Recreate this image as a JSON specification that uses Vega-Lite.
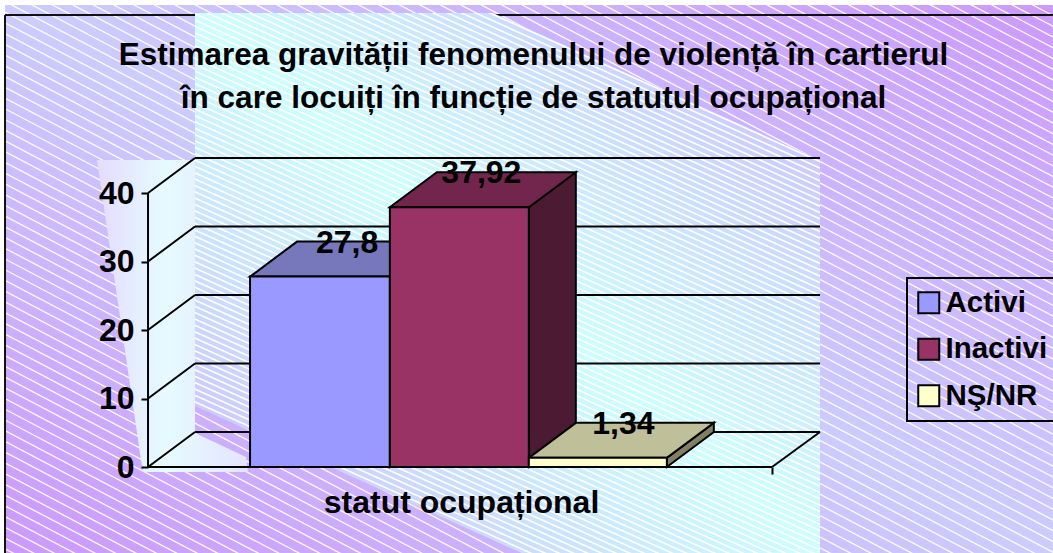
{
"$schema":"https://vega.github.io/schema/vega-lite/v6.json",
"width":625,"height":540,
"autosize":{"type":"none"},
"padding":{"left":195,"top":13,"right":233,"bottom":0},
"background":"white",
"title":{"text":["Estimarea gravității fenomenului de violență în cartierul","în care locuiți în funcție de statutul ocupațional"],"font":"Liberation Sans","fontWeight":"bold","fontSize":31.5,"color":"black","anchor":"middle","dx":26,"offset":-1144,"lineHeight":42.7,"baseline":"alphabetic"},
"config":{"view":{"stroke":null},"legend":{"strokeWidth":2}},
"datasets":{
"fundal":[{"x":-1.029,"x2":6.511,"y":67.45,"y2":-12.55}],
"hasura":[{"x":4.727,"y":105.4,"x2":0.712,"y2":-49.6}],
"hasuraFina":[{"x":3.292,"y":58.8,"x2":1.873,"y2":-5.11}],
"cadru":[{"x":-1.029,"x2":-1.029,"y":65.99,"y2":-12.55},{"x":-1.029,"x2":6.511,"y":65.99,"y2":65.99}],
"panou":[{"x":0.338,"y":8.905,"y2":66.28},{"x":2.482,"y":-10.66,"y2":66.28},{"x":2.691,"y":-12.55,"y2":64.38},{"x":4.835,"y":-12.55,"y2":44.82}],
"perete":[{"y":44.82,"x":-0.367,"x2":0.338},{"y":4.96,"x":-0.079,"x2":0.338},{"y":1.46,"x":-0.054,"x2":0.705},{"y":-0.73,"x":-0.036,"x2":0.719}],
"grila":[
{"x":0.338,"x2":4.835,"y":5.11,"y2":5.11},{"x":0.338,"x2":4.835,"y":15.11,"y2":15.11},{"x":0.338,"x2":4.835,"y":25.11,"y2":25.11},{"x":0.338,"x2":4.835,"y":35.11,"y2":35.11},{"x":0.338,"x2":4.835,"y":45.11,"y2":45.11},
{"x":0,"x2":0.338,"y":0,"y2":5.11},{"x":0,"x2":0.338,"y":10,"y2":15.11},{"x":0,"x2":0.338,"y":20,"y2":25.11},{"x":0,"x2":0.338,"y":30,"y2":35.11},{"x":0,"x2":0.338,"y":40,"y2":45.11},
{"x":0,"x2":0,"y":0,"y2":40},{"x":0,"x2":4.49,"y":0,"y2":0},{"x":4.49,"x2":4.835,"y":0,"y2":5.11}],
"fete":[
{"fata":"Activi lateral","x":1.74,"y":0,"y2":27.8},{"fata":"Activi lateral","x":2.078,"y":5.11,"y2":32.91},
{"fata":"Inactivi lateral","x":2.74,"y":0,"y2":37.92},{"fata":"Inactivi lateral","x":3.078,"y":5.11,"y2":43.03},
{"fata":"NS lateral","x":3.733,"y":0,"y2":1.34},{"fata":"NS lateral","x":4.071,"y":5.11,"y2":6.45}],
"sus":[
{"fata":"Activi sus","y":27.8,"x":0.734,"x2":1.74},{"fata":"Activi sus","y":32.91,"x":1.072,"x2":2.078},
{"fata":"Inactivi sus","y":37.92,"x":1.74,"x2":2.74},{"fata":"Inactivi sus","y":43.03,"x":2.078,"x2":3.078},
{"fata":"NS sus","y":1.34,"x":2.74,"x2":3.733},{"fata":"NS sus","y":6.45,"x":3.078,"x2":4.071}],
"bare":[
{"grupa":"Activi","x0":0.734,"x1":1.74,"xm":1.267,"valoare":27.8,"zero":0,"eticheta":"27,8"},
{"grupa":"Inactivi","x0":1.74,"x1":2.74,"xm":2.233,"valoare":37.92,"zero":0,"eticheta":"37,92"},
{"grupa":"NŞ/NR","x0":2.74,"x1":3.733,"xm":3.255,"valoare":1.34,"zero":0,"eticheta":"1,34"}]
},
"layer":[
{"data":{"name":"fundal"},"mark":{"type":"rect","clip":false,"fill":{"gradient":"linear","x1":0,"y1":1,"x2":1,"y2":0,"stops":[{"offset":0,"color":"#cc99ff"},{"offset":0.5,"color":"#ccccff"},{"offset":1,"color":"#cc99ff"}]}},
 "encoding":{
 "x":{"field":"x","type":"quantitative","scale":{"domain":[0.338,4.835],"nice":false,"zero":false},"axis":{"orient":"bottom","offset":-86,"values":[0,4.49],"labels":false,"grid":false,"domain":false,"ticks":true,"tickSize":7,"tickWidth":2,"tickColor":"black","title":"statut ocupațional","titleFont":"Liberation Sans","titleFontWeight":"bold","titleFontSize":32,"titleColor":"black","titleX":266,"titleY":45,"titleBaseline":"alphabetic","titleAnchor":"middle","zindex":1}},
 "x2":{"field":"x2"},
 "y":{"field":"y","type":"quantitative","scale":{"domain":[-12.55,66.28],"nice":false,"zero":false},"axis":{"orient":"left","offset":47,"values":[0,10,20,30,40],"grid":false,"domain":false,"ticks":true,"tickSize":7,"tickWidth":2,"tickColor":"black","labelFont":"Liberation Sans","labelFontWeight":"bold","labelFontSize":32,"labelColor":"black","labelPadding":7,"labelFlush":false,"title":null,"zindex":1}},
 "y2":{"field":"y2"}}},
{"data":{"name":"hasura"},"mark":{"type":"rule","color":"white","strokeWidth":1500,"strokeDash":[1.3,8.2],"opacity":0.95},
 "encoding":{"x":{"field":"x","type":"quantitative"},"x2":{"field":"x2"},"y":{"field":"y","type":"quantitative"},"y2":{"field":"y2"}}},
{"data":{"name":"cadru"},"mark":{"type":"rule","color":"#111","strokeWidth":2},
 "encoding":{"x":{"field":"x","type":"quantitative"},"x2":{"field":"x2"},"y":{"field":"y","type":"quantitative"},"y2":{"field":"y2"}}},
{"data":{"name":"panou"},"mark":{"type":"area","orient":"vertical","fill":{"gradient":"linear","x1":0,"y1":1,"x2":1,"y2":0,"stops":[{"offset":0,"color":"#ccccff"},{"offset":0.14,"color":"#ccccff"},{"offset":0.5,"color":"#ccffff"},{"offset":0.86,"color":"#ccccff"},{"offset":1,"color":"#ccccff"}]}},
 "encoding":{"x":{"field":"x","type":"quantitative"},"y":{"field":"y","type":"quantitative","stack":null},"y2":{"field":"y2"}}},
{"data":{"name":"hasuraFina"},"mark":{"type":"rule","color":"white","strokeWidth":800,"strokeDash":[1.6,4.2],"clip":true},
 "encoding":{"x":{"field":"x","type":"quantitative"},"x2":{"field":"x2"},"y":{"field":"y","type":"quantitative"},"y2":{"field":"y2"}}},
{"data":{"name":"perete"},"mark":{"type":"area","orient":"horizontal","fill":{"gradient":"linear","x1":0,"y1":0,"x2":1,"y2":0,"stops":[{"offset":0,"color":"#e4dcff"},{"offset":0.45,"color":"#e6fbff"},{"offset":1,"color":"#e4e4ff"}]}},
 "encoding":{"y":{"field":"y","type":"quantitative"},"x":{"field":"x","type":"quantitative","stack":null},"x2":{"field":"x2"}}},
{"data":{"name":"grila"},"mark":{"type":"rule","color":"black","strokeWidth":2},
 "encoding":{"x":{"field":"x","type":"quantitative"},"x2":{"field":"x2"},"y":{"field":"y","type":"quantitative"},"y2":{"field":"y2"}}},
{"data":{"name":"fete"},"mark":{"type":"area","orient":"vertical","stroke":"black","strokeWidth":2},
 "encoding":{"x":{"field":"x","type":"quantitative"},"y":{"field":"y","type":"quantitative","stack":null},"y2":{"field":"y2"},
 "fill":{"field":"fata","type":"nominal","legend":null,"scale":{"domain":["Activi lateral","Inactivi lateral","NS lateral","Activi sus","Inactivi sus","NS sus"],"range":["#4d4d80","#4d1a33","#808066","#7777bb","#73264d","#bfbf99"]}}}},
{"data":{"name":"sus"},"mark":{"type":"area","orient":"horizontal","stroke":"black","strokeWidth":2},
 "encoding":{"y":{"field":"y","type":"quantitative"},"x":{"field":"x","type":"quantitative","stack":null},"x2":{"field":"x2"},
 "fill":{"field":"fata","type":"nominal","legend":null}}},
{"data":{"name":"bare"},"mark":{"type":"rect","stroke":"black","strokeWidth":2},
 "encoding":{
 "x":{"field":"x0","type":"quantitative"},
 "x2":{"field":"x1"},
 "y":{"field":"valoare","type":"quantitative"},
 "y2":{"field":"zero"},
 "color":{"field":"grupa","type":"nominal","scale":{"domain":["Activi","Inactivi","NŞ/NR"],"range":["#9999ff","#993366","#ffffcc"]},
 "legend":{"orient":"none","legendX":712,"legendY":265,"title":null,"symbolType":"square","symbolSize":441,"symbolStrokeColor":"black","symbolStrokeWidth":2,"symbolOffset":-3,"labelFont":"Liberation Sans","labelFontWeight":"bold","labelFontSize":29.5,"labelColor":"black","labelLimit":300,"padding":10,"rowPadding":15.5,"strokeColor":"black","labelOffset":2}}}},
{"data":{"name":"bare"},"mark":{"type":"text","font":"Liberation Sans","fontWeight":"bold","fontSize":32,"color":"black","dx":23,"dy":-34,"baseline":"middle","align":"center"},
 "encoding":{"x":{"field":"xm","type":"quantitative"},"y":{"field":"valoare","type":"quantitative"},"text":{"field":"eticheta","type":"nominal"}}}
]
}
